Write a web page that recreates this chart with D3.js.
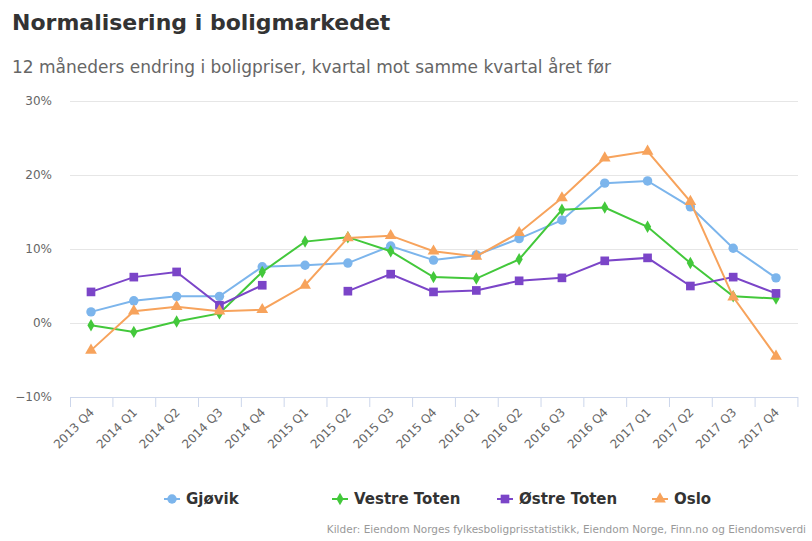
<!DOCTYPE html>
<html><head><meta charset="utf-8">
<script src="https://cdn.jsdelivr.net/npm/d3@7"></script>
<style>body{margin:0;background:#fff;font-family:"DejaVu Sans",sans-serif}</style>
</head><body><svg id="c" width="812" height="541"></svg>
<script>
var categories = ["2013 Q4","2014 Q1","2014 Q2","2014 Q3","2014 Q4","2015 Q1","2015 Q2","2015 Q3","2015 Q4","2016 Q1","2016 Q2","2016 Q3","2016 Q4","2017 Q1","2017 Q2","2017 Q3","2017 Q4"];
var gjovik = [1.5,3.0,3.6,3.6,7.6,7.8,8.1,10.4,8.5,9.2,11.4,13.9,18.9,19.2,15.7,10.1,6.1];
var vestreToten = [-0.3,-1.2,0.2,1.3,6.9,11.0,11.6,9.7,6.2,6.0,8.6,15.3,15.6,13.0,8.1,3.6,3.3];
var ostreToten = [4.2,6.2,6.9,2.4,5.1,null,4.3,6.6,4.2,4.4,5.7,6.1,8.4,8.8,5.0,6.2,4.0];
var oslo = [-3.7,1.6,2.2,1.6,1.8,5.1,11.5,11.8,9.7,9.0,12.2,16.9,22.3,23.2,16.4,3.5,-4.5];
var yTicks = [-10,0,10,20,30];

var series = [
  {name:"Gjøvik", data:gjovik, color:"#7cb5ec", sym:d3.symbolCircle, size:70},
  {name:"Vestre Toten", data:vestreToten, color:"#43c83b", sym:d3.symbolDiamond, size:45},
  {name:"Østre Toten", data:ostreToten, color:"#7b45c8", sym:d3.symbolSquare, size:75},
  {name:"Oslo", data:oslo, color:"#f7a35c", sym:d3.symbolTriangle, size:60}
];

var svg = d3.select("#c");
var L = 70, R = 798, T = 101, B = 397;
var x = d3.scalePoint().domain(categories).range([91, 776]);
var y = d3.scaleLinear().domain([-10,30]).range([B, T]);

svg.append("text").attr("x",12).attr("y",30).text("Normalisering i boligmarkedet")
  .attr("font-size",22).attr("font-weight","bold").attr("fill","#333");
svg.append("text").attr("x",12).attr("y",73).text("12 måneders endring i boligpriser, kvartal mot samme kvartal året før")
  .attr("font-size",17).attr("fill","#666");

svg.selectAll(".grid").data(yTicks).enter().append("line")
  .attr("x1",L).attr("x2",R).attr("y1",d=>y(d)+0.5).attr("y2",d=>y(d)+0.5)
  .attr("stroke",d=>d===-10?"#ccd6eb":"#e6e6e6");
svg.selectAll(".yl").data(yTicks).enter().append("text")
  .attr("x",52).attr("y",d=>y(d)+4).attr("text-anchor","end")
  .attr("font-size",12).attr("fill","#666").text(d=>(d<0?"−":"")+Math.abs(d)+"%");

var step = x.step();
svg.selectAll(".xt").data(categories).enter().append("line")
  .attr("x1",d=>x(d)+step/2+0.5).attr("x2",d=>x(d)+step/2+0.5).attr("y1",B).attr("y2",B+10)
  .attr("stroke","#ccd6eb");
svg.append("line").attr("x1",L+0.5).attr("x2",L+0.5).attr("y1",B).attr("y2",B+10).attr("stroke","#ccd6eb");
svg.selectAll(".xl").data(categories).enter().append("text")
  .attr("transform",d=>"translate("+(x(d)+4)+","+(B+16)+") rotate(-45)")
  .attr("text-anchor","end").attr("font-size",12).attr("fill","#666").text(d=>d);

var line = d3.line().defined(d=>d!=null).x((d,i)=>x(categories[i])).y(d=>y(d));
series.forEach(function(s){
  svg.append("path").attr("d",line(s.data)).attr("fill","none").attr("stroke",s.color).attr("stroke-width",2);
  svg.selectAll(null).data(s.data.map((v,i)=>[categories[i],v]).filter(d=>d[1]!=null)).enter()
    .append("path").attr("d",d3.symbol(s.sym,s.size)())
    .attr("transform",d=>"translate("+x(d[0])+","+y(d[1])+")").attr("fill",s.color);
});

var lx = [164, 332, 497, 652];
series.forEach(function(s,i){
  var g = svg.append("g").attr("transform","translate("+lx[i]+",499)");
  g.append("line").attr("x1",0).attr("x2",16).attr("stroke",s.color).attr("stroke-width",2);
  g.append("path").attr("d",d3.symbol(s.sym,s.size)()).attr("transform","translate(8,0)").attr("fill",s.color);
  g.append("text").attr("x",22).attr("y",5).attr("font-size",15).attr("font-weight","bold").attr("fill","#333").text(s.name);
});

svg.append("text").attr("x",806).attr("y",533).attr("text-anchor","end").attr("font-size",10.5).attr("fill","#999")
  .text("Kilder: Eiendom Norges fylkesboligprisstatistikk, Eiendom Norge, Finn.no og Eiendomsverdi");
</script></body></html>
